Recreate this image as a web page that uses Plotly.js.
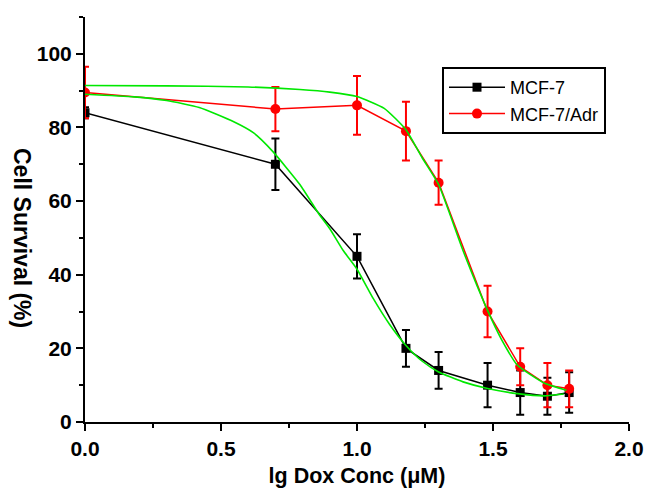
<!DOCTYPE html>
<html>
<head>
<meta charset="utf-8">
<script src="https://cdn.plot.ly/plotly-3.0.1.min.js"></script>
<style>html,body{margin:0;padding:0;background:#fff}#chart{width:646px;height:489px}</style>
</head>
<body>
<div id="chart"></div>
<script>
// lg of doxorubicin concentration (µM)
var lgConc = [0, 0.70, 1.00, 1.18, 1.30, 1.48, 1.60, 1.70, 1.78];

// MCF-7 cell survival (%) and error
var mcf7Survival = [84, 70, 45, 20, 14, 10, 8, 7, 8];
var mcf7Error    = [1.5, 7, 6, 5, 5, 6, 6, 5, 5.5];

// MCF-7/Adr cell survival (%) and error
var adrSurvival = [89.5, 85, 86, 79, 65, 30, 15, 10, 9];
var adrError    = [7, 6, 8, 8, 6, 7, 5, 6, 5];

// fitted curves
var fitMcfX = [0, 0.18, 0.30, 0.42, 0.545, 0.62, 0.69, 0.79, 0.86, 0.90, 0.95, 1.00, 1.06, 1.12, 1.18, 1.24, 1.30, 1.39, 1.48, 1.59, 1.69, 1.76];
var fitMcfY = [89.0, 88.3, 87.3, 85.4, 81.6, 78.5, 73.5, 64.5, 56.5, 52.5, 46.5, 41.5, 33.5, 26.5, 20.8, 16.5, 13.6, 10.9, 9.1, 7.7, 7.1, 7.6];
var fitAdrX = [0, 0.30, 0.60, 0.79, 0.90, 1.00, 1.10, 1.18, 1.24, 1.30, 1.39, 1.48, 1.53, 1.59, 1.69, 1.77];
var fitAdrY = [91.4, 91.3, 91.0, 90.3, 89.6, 88.4, 85.2, 79.4, 71.7, 64.5, 46.5, 30.3, 22.6, 15.4, 10.5, 8.6];

var seriesNames = ['MCF-7', 'MCF-7/Adr'];
var xTitle = 'lg Dox Conc (μM)';
var yTitle = 'Cell Survival (%)';

var FONT = 'Liberation Sans, Arial, sans-serif';
var GREEN = '#00e800';

var traces = [
  {
    x: lgConc, y: mcf7Survival, name: seriesNames[0], type: 'scatter', mode: 'lines+markers',
    line: {color: '#000', width: 1.5},
    marker: {symbol: 'square', size: 9, color: '#000'},
    error_y: {type: 'data', array: mcf7Error, visible: true, color: '#000', thickness: 2, width: 4}
  },
  {
    x: lgConc, y: adrSurvival, name: seriesNames[1], type: 'scatter', mode: 'lines+markers',
    line: {color: '#ff0000', width: 1.5},
    marker: {symbol: 'circle', size: 10, color: '#ff0000'},
    error_y: {type: 'data', array: adrError, visible: true, color: '#ff0000', thickness: 2, width: 4}
  },
  {
    x: fitMcfX, y: fitMcfY, type: 'scatter', mode: 'lines', showlegend: false, hoverinfo: 'skip',
    line: {color: GREEN, width: 1.6, shape: 'spline', smoothing: 0.5}
  },
  {
    x: fitAdrX, y: fitAdrY, type: 'scatter', mode: 'lines', showlegend: false, hoverinfo: 'skip',
    line: {color: GREEN, width: 1.6, shape: 'spline', smoothing: 0.5}
  }
];

var layout = {
  width: 646, height: 489,
  margin: {l: 85, r: 17, t: 17, b: 67, pad: 0},
  paper_bgcolor: '#fff', plot_bgcolor: '#fff',
  font: {family: FONT, color: '#000'},
  showlegend: true,
  legend: {
    x: (442 - 85) / 544, y: (422 - 67) / 405, xanchor: 'left', yanchor: 'top',
    bordercolor: '#000', borderwidth: 2, bgcolor: '#fff',
    font: {family: FONT, size: 18, color: '#000'},
    itemwidth: 56, tracegroupgap: 0
  },
  xaxis: {
    range: [0, 2], dtick: 0.5, tick0: 0, tickformat: '.1f',
    showgrid: false, zeroline: false,
    showline: true, linecolor: '#000', linewidth: 2,
    ticks: 'outside', ticklen: 7, tickwidth: 2, tickcolor: '#000',
    minor: {dtick: 0.25, ticks: 'outside', ticklen: 4, tickwidth: 2, tickcolor: '#000', showgrid: false},
    tickfont: {family: FONT, size: 21, weight: 'bold', color: '#000'},
    title: {text: xTitle, standoff: 9, font: {family: FONT, size: 21.5, weight: 'bold', color: '#000'}}
  },
  yaxis: {
    range: [0, 110], dtick: 20, tick0: 0,
    showgrid: false, zeroline: false,
    showline: true, linecolor: '#000', linewidth: 2,
    ticks: 'outside', ticklen: 7, tickwidth: 2, tickcolor: '#000',
    minor: {dtick: 10, ticks: 'outside', ticklen: 4, tickwidth: 2, tickcolor: '#000', showgrid: false},
    tickfont: {family: FONT, size: 21, weight: 'bold', color: '#000'}
  },
  annotations: [{
    text: yTitle, textangle: 90, showarrow: false,
    xref: 'paper', yref: 'paper', x: (22 - 85) / 544, y: (422 - 238) / 405,
    xanchor: 'center', yanchor: 'middle',
    font: {family: FONT, size: 23, weight: 'bold', color: '#000'}
  }]
};

Plotly.newPlot('chart', traces, layout, {displayModeBar: false, staticPlot: true});
</script>
</body>
</html>
